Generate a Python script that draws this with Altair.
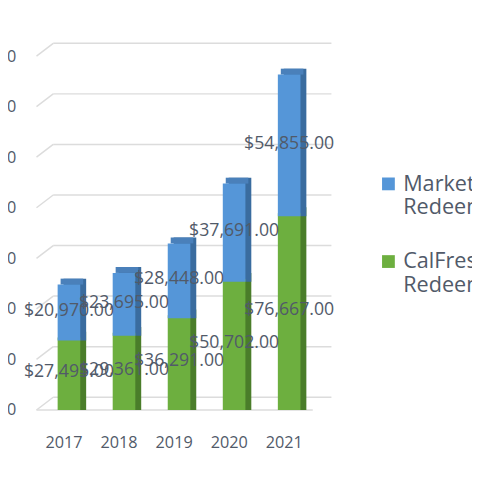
import altair as alt
import pandas as pd

years = ["2017", "2018", "2019", "2020", "2021"]
calfresh = [27495, 29361, 36291, 50702, 76667]
market = [20970, 23695, 28448, 37691, 54855]
series_names = ["Market Match Redeemed", "CalFresh Redeemed"]
y_ticks = [0, 20000, 40000, 60000, 80000, 100000, 120000, 140000]

front_colors = ["#5596D8", "#6DAF3F"]
side_colors = {"Market Match Redeemed": "#3A6C9F", "CalFresh Redeemed": "#4A7D2A"}
top_color = "#4A80BA"
text_color = "#515A69"
grid_color = "#DCDCDC"
FONT = "Open Sans"

rows = []
for i, yr in enumerate(years):
    base = 0
    for name, vals in (("CalFresh Redeemed", calfresh), ("Market Match Redeemed", market)):
        v = vals[i]
        rows.append({"year": yr, "series": name, "side_color": side_colors[name], "value": v,
                     "y0": base, "y1": base + v, "mid": base + v / 2,
                     "label": f"${v:,.2f}", "is_top": name == "Market Match Redeemed"})
        base += v
df = pd.DataFrame(rows)
ticks = pd.DataFrame({"v": y_ticks})

yscale = alt.Scale(domain=[0, 140000], nice=False, zero=True)
yaxis = alt.Axis(title=None, format="$,.2f", values=y_ticks, grid=False, domain=False,
                 ticks=False, labelPadding=21, labelFont=FONT, labelFontSize=16.5,
                 labelColor=text_color)
xaxis = alt.Axis(title=None, labelAngle=0, domain=False, ticks=False, labelPadding=25,
                 labelFont=FONT, labelFontSize=16.5, labelColor=text_color)
xenc = alt.X("year:N", sort=years, scale=alt.Scale(paddingInner=0, paddingOuter=0), axis=xaxis)

back_grid = alt.Chart(ticks).mark_rule(color=grid_color, strokeWidth=1.5, yOffset=-13).encode(
    y=alt.Y("v:Q", scale=yscale, axis=yaxis), x=alt.value(17), x2=alt.value(300))
diag_grid = alt.Chart(ticks).mark_rule(color=grid_color, strokeWidth=1.5, y2Offset=-13).encode(
    y=alt.Y("v:Q", scale=yscale, axis=yaxis), y2="v:Q", x=alt.value(0), x2=alt.value(17))
floor_front = alt.Chart(ticks).transform_filter("datum.v == 0").mark_rule(
    color=grid_color, strokeWidth=1.5).encode(
    y=alt.Y("v:Q", scale=yscale, axis=yaxis), x=alt.value(0), x2=alt.value(281))

side = alt.Chart(df).mark_bar(size=23, xOffset=11, yOffset=-9).encode(
    x=xenc, y=alt.Y("y1:Q", scale=yscale, axis=yaxis), y2="y0:Q",
    fill=alt.Fill("side_color:N", scale=None))
topface = alt.Chart(df).transform_filter("datum.is_top").mark_bar(
    size=23, xOffset=8, yOffset=-3, y2Offset=-9, color=top_color).encode(
    x=xenc, y=alt.Y("y1:Q", scale=yscale, axis=yaxis), y2="y1:Q")
front = alt.Chart(df).mark_bar(size=23, xOffset=5, yOffset=-3).encode(
    x=xenc, y=alt.Y("y1:Q", scale=yscale, axis=yaxis), y2="y0:Q",
    color=alt.Color("series:N", scale=alt.Scale(domain=series_names, range=front_colors),
                    legend=alt.Legend(
                        title=None, orient="none", legendX=347, legendY=119,
                        symbolType="square", symbolSize=169, symbolStrokeWidth=0,
                        labelFont=FONT, labelFontSize=22, labelColor=text_color,
                        labelLimit=600, labelOffset=4, rowPadding=33, padding=0,
                        labelExpr="[substring(datum.label, 0, lastindexof(datum.label, ' ')), substring(datum.label, lastindexof(datum.label, ' ') + 1)]")))
labels = alt.Chart(df).mark_text(font=FONT, fontSize=18, color=text_color, xOffset=5,
                                 yOffset=-3, baseline="middle").encode(
    x=xenc, y=alt.Y("mid:Q", scale=yscale, axis=yaxis), text="label:N")

chart = alt.layer(back_grid, diag_grid, floor_front, side, topface, front, labels).properties(
    width=280, height=360,
    padding={"left": 29, "top": 45, "right": 163, "bottom": 50},
    autosize=alt.AutoSizeParams(type="none"),
    background="white",
).configure_view(stroke=None)

chart.save("out.html", embed_options={"renderer": "svg", "actions": False})
